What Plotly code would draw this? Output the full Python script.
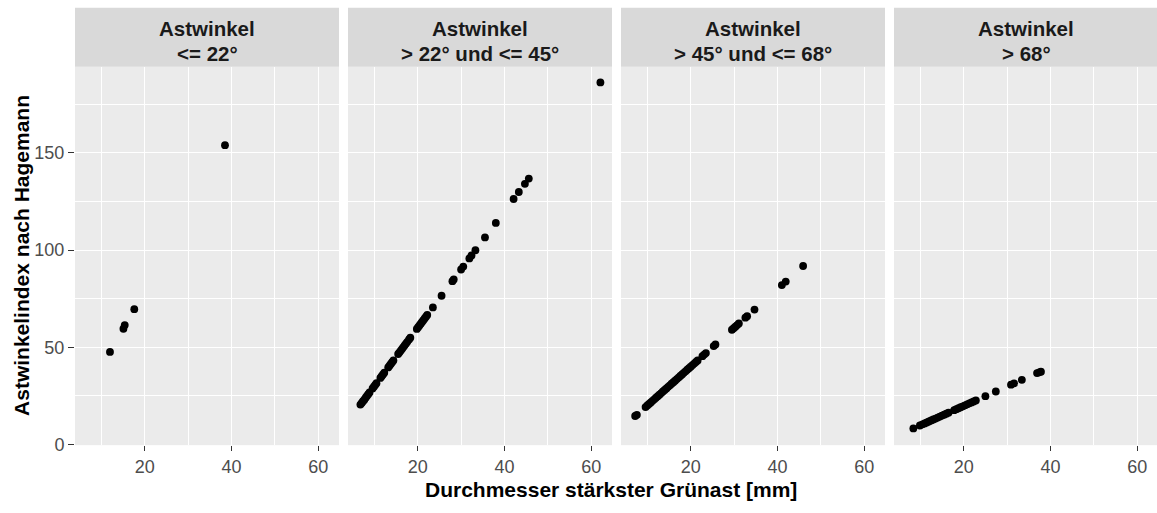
import plotly.graph_objects as go

# ---------------- data ----------------
facet_labels = [
    ("Astwinkel", "<= 22°"),
    ("Astwinkel", "> 22° und <= 45°"),
    ("Astwinkel", "> 45° und <= 68°"),
    ("Astwinkel", "> 68°"),
]

x1 = [12.0, 15.1, 15.4, 17.6, 38.5]
y1 = [47.6, 59.5, 61.4, 69.6, 154.0]

x2 = [6.8, 7.1, 7.4, 7.7, 8.0, 8.3, 8.6, 8.9, 9.6, 9.9, 10.2, 10.5, 11.4, 11.7,
      12.0, 12.3, 13.2, 13.5, 13.8, 14.1, 14.4, 15.5, 15.8, 16.1, 16.4, 16.7,
      17.0, 17.3, 17.6, 18.0, 18.3, 19.8, 20.1, 20.4, 20.7, 21.0, 21.3, 21.6,
      21.9, 22.2, 23.5, 25.5, 28.0, 28.3, 30.0, 30.5, 31.9, 32.4, 33.3, 35.5,
      38.0, 42.1, 43.3, 44.7, 45.6, 62.1]
y2 = [20.5, 21.3, 22.2, 23.0, 24.0, 24.9, 25.8, 26.7, 28.8, 29.7, 30.6, 31.5,
      34.2, 35.1, 36.0, 36.9, 39.6, 40.5, 41.4, 42.3, 43.2, 46.5, 47.4, 48.3,
      49.2, 50.1, 51.0, 51.9, 52.8, 54.0, 54.9, 59.4, 60.3, 61.2, 62.1, 63.0,
      63.9, 64.8, 65.7, 66.6, 70.5, 76.5, 84.0, 84.9, 90.0, 91.5, 95.7, 97.2,
      99.9, 106.5, 114.0, 126.3, 129.9, 134.1, 136.8, 186.3]

x3 = [7.2, 7.6, 9.6, 10.0, 10.4, 10.8, 11.2, 11.6, 12.0, 12.4, 12.8, 13.2, 13.6,
      14.0, 14.4, 14.8, 15.2, 15.6, 16.0, 16.4, 16.8, 17.2, 17.6, 18.0, 18.4,
      18.8, 19.2, 19.6, 20.0, 20.4, 20.8, 21.2, 21.6, 22.7, 23.1, 23.5, 25.3,
      25.7, 29.5, 29.9, 30.3, 30.7, 31.1, 32.6, 33.0, 34.7, 41.0, 41.9, 45.9]
y3 = [14.6, 15.2, 19.2, 20.0, 20.8, 21.6, 22.4, 23.2, 24.0, 24.8, 25.6, 26.4,
      27.2, 28.0, 28.8, 29.6, 30.4, 31.2, 32.0, 32.8, 33.6, 34.4, 35.2, 36.0,
      36.8, 37.6, 38.4, 39.2, 40.0, 40.8, 41.6, 42.4, 43.2, 45.4, 46.2, 47.0,
      50.6, 51.4, 59.0, 59.8, 60.6, 61.4, 62.2, 65.2, 66.0, 69.4, 82.0, 83.8,
      91.8]

x4 = [8.4, 9.9, 10.5, 11.0, 11.5, 12.0, 12.5, 13.0, 13.5, 14.0, 14.5, 15.0,
      15.5, 16.0, 16.5, 17.8, 18.3, 18.8, 19.3, 19.8, 20.3, 20.8, 21.3, 21.8,
      22.3, 22.8, 25.0, 27.4, 30.9, 31.6, 33.4, 36.9, 37.4, 37.8]
y4 = [8.2, 9.7, 10.3, 10.8, 11.3, 11.8, 12.3, 12.8, 13.3, 13.8, 14.3, 14.8,
      15.3, 15.8, 16.3, 17.6, 18.1, 18.6, 19.1, 19.6, 20.1, 20.6, 21.1, 21.6,
      22.1, 22.6, 24.8, 27.2, 30.7, 31.4, 33.2, 36.7, 37.1, 37.4]

xs = [x1, x2, x3, x4]
ys = [y1, y2, y3, y4]

x_ticks = [20, 40, 60]
y_ticks = [0, 50, 100, 150]
y_title = "Astwinkelindex nach Hagemann"
x_title = "Durchmesser stärkster Grünast [mm]"

# ---------------- layout geometry ----------------
W, H = 1157, 513
FONT = "Liberation Sans, Arial, sans-serif"
panel_px = [(75, 339), (348, 612), (621, 885), (894, 1157)]
px_per_unit = 4.34
x_lo = 3.94
top_px, bot_px = 68, 454
strip_top = 8
y_range = [-0.4, 194.4]

fig = go.Figure()
for i in range(4):
    n = "" if i == 0 else str(i + 1)
    fig.add_trace(go.Scatter(
        x=xs[i], y=ys[i], mode="markers",
        marker=dict(color="black", size=7.8, line=dict(width=0)),
        xaxis="x" + n, yaxis="y" + n, showlegend=False, hoverinfo="x+y"))
    l, r = panel_px[i]
    x_hi = x_lo + (r - l) / px_per_unit
    fig.layout["xaxis" + n] = dict(
        domain=[l / W, r / W], range=[x_lo, x_hi], anchor="y" + n,
        tickvals=x_ticks, showgrid=True, gridcolor="white", gridwidth=1.4,
        minor=dict(tickvals=[10, 30, 50], showgrid=True, gridcolor="white",
                   gridwidth=0.7, ticks=""),
        zeroline=False, showline=False, ticks="outside", ticklen=5,
        tickwidth=1.1, tickcolor="#333333",
        tickfont=dict(family=FONT, size=18, color="#4D4D4D"))
    fig.layout["yaxis" + n] = dict(
        domain=[(H - bot_px) / H, (H - top_px) / H], range=y_range,
        anchor="x" + n, tickvals=y_ticks, showgrid=True, gridcolor="white",
        gridwidth=1.4,
        minor=dict(tickvals=[25, 75, 125, 175], showgrid=True,
                   gridcolor="white", gridwidth=0.7, ticks=""),
        zeroline=False, showline=False,
        ticks="outside" if i == 0 else "", ticklen=6, tickwidth=1.1,
        tickcolor="#333333", showticklabels=(i == 0),
        tickfont=dict(family=FONT, size=18, color="#4D4D4D"))
    # strip
    fig.add_shape(type="rect", xref="paper", yref="paper",
                  x0=l / W, x1=r / W, y0=(H - top_px) / H,
                  y1=(H - strip_top) / H, fillcolor="#D9D9D9",
                  line=dict(width=0), layer="below")
    cx = (l + (l + 264)) / 2 / W
    for txt, ypx in zip(facet_labels[i], (29.5, 54.5)):
        fig.add_annotation(text="<b>" + txt + "</b>", xref="paper",
                           yref="paper", x=cx, y=(H - ypx) / H,
                           xanchor="center", yanchor="middle",
                           showarrow=False,
                           font=dict(family=FONT, size=20.5, color="#1A1A1A"))

fig.add_annotation(text="<b>" + y_title + "</b>", xref="paper", yref="paper",
                   x=22 / W, y=(H - 261) / H, xanchor="center",
                   yanchor="middle", textangle=-90, showarrow=False,
                   font=dict(family=FONT, size=21, color="black"))
fig.add_annotation(text="<b>" + x_title + "</b>", xref="paper", yref="paper",
                   x=611 / W, y=(H - 499) / H, xanchor="center",
                   yanchor="middle", showarrow=False,
                   font=dict(family=FONT, size=21, color="black"))

fig.update_layout(width=W, height=H, margin=dict(l=0, r=0, t=0, b=0),
                  paper_bgcolor="white", plot_bgcolor="#EBEBEB",
                  showlegend=False)
fig.write_html("out.html")
